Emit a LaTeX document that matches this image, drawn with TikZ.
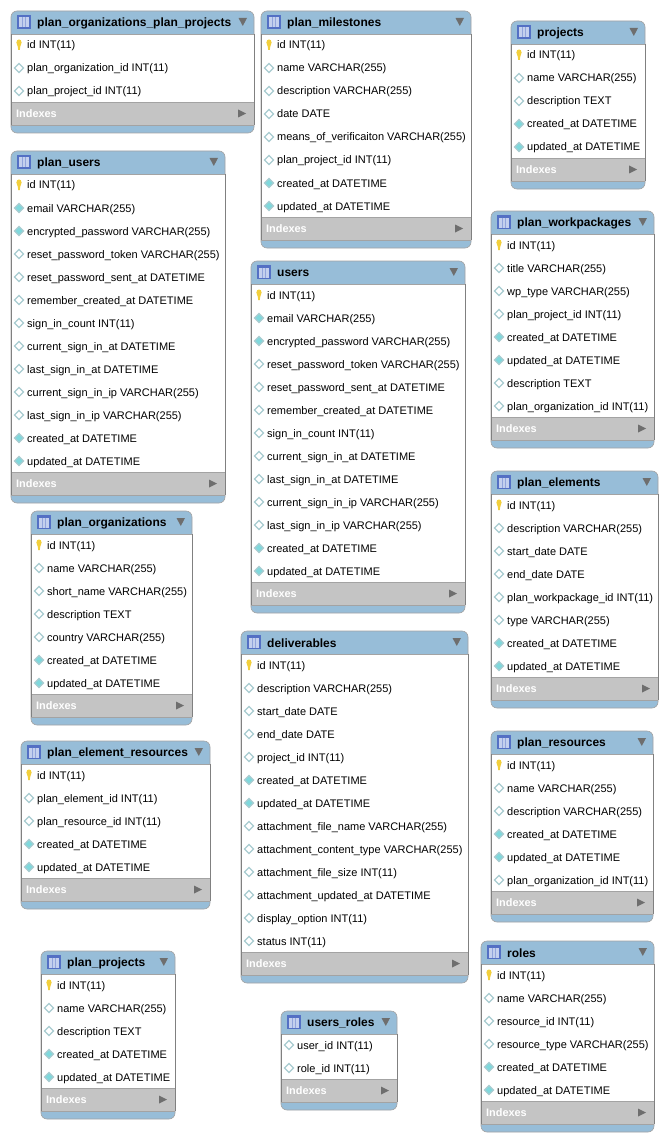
\documentclass[tikz,border=0pt]{standalone}
\usepackage{fontspec}
\setmainfont{Liberation Sans}
\definecolor{hdr}{HTML}{97BDD8}
\definecolor{band}{HTML}{C4C4C4}
\definecolor{edge}{HTML}{A3A3A3}
\definecolor{side}{HTML}{808080}
\definecolor{arrowgrey}{HTML}{6E6E6E}
\definecolor{keyy}{HTML}{F2CF3C}
\definecolor{cyanfill}{HTML}{7FD8DC}
\definecolor{diaedge}{HTML}{A8CCD0}
\definecolor{iconblue}{HTML}{5470C4}
\definecolor{iconpale}{HTML}{C4D0EE}
\tikzset{
  x=1pt,y=-1pt,
  rowtext/.style={anchor=west,inner sep=0pt,font=\fontsize{11}{12}\selectfont,text=black},
  titletext/.style={anchor=west,inner sep=0pt,font=\bfseries\fontsize{12}{13}\selectfont,text=black},
  idxtext/.style={anchor=west,inner sep=0pt,font=\bfseries\fontsize{10.9}{12}\selectfont,text=white},
  arrowmark/.style={fill=arrowgrey,draw=none},
  dia/.style={line width=1.1pt},
}
\newcommand{\iconk}[2]{%
  \fill[keyy] (#1-2.6,#2-2.5) .. controls (#1-2.6,#2-6.5) and (#1+2.6,#2-6.5) .. (#1+2.6,#2-2.5)
     .. controls (#1+2.6,#2-0.5) and (#1+1,#2) .. (#1+.8,#2+5) -- (#1-.8,#2+5)
     .. controls (#1-1,#2) and (#1-2.6,#2-0.5) .. cycle;}
\newcommand{\iconh}[2]{%
  \draw[dia,draw=diaedge,fill=white] (#1-4.5,#2) -- (#1,#2-4.5) -- (#1+4.5,#2) -- (#1,#2+4.5) -- cycle;}
\newcommand{\iconf}[2]{%
  \draw[dia,draw=diaedge,fill=cyanfill] (#1-4.5,#2) -- (#1,#2-4.5) -- (#1+4.5,#2) -- (#1,#2+4.5) -- cycle;}
% id, left, right, top, row count, title, rows
\newcommand{\dbtable}[7]{%
  \pgfmathsetmacro{\rowsend}{#4+22+(#5)*23}%
  \pgfmathsetmacro{\idxend}{\rowsend+23}%
  \pgfmathsetmacro{\tblend}{\idxend+8}%
  \fill[hdr,draw=edge,line width=.6pt,rounded corners=6pt] (#2,#4) rectangle (#3,\tblend);
  \fill[white] (#2,#4+23) rectangle (#3,\rowsend);
  \fill[band] (#2,\rowsend) rectangle (#3,\idxend);
  \draw[edge,line width=.8pt] (#2,#4+23) -- (#3,#4+23);
  \draw[edge,line width=.8pt] (#2,\rowsend) -- (#3,\rowsend);
  \draw[edge,line width=.8pt] (#2,\idxend) -- (#3,\idxend);
  \draw[side,line width=.7pt] (#2,#4+23) -- (#2,\idxend);
  \draw[side,line width=.7pt] (#3,#4+23) -- (#3,\idxend);
  % table icon
  \fill[iconblue] (#2+6,#4+4) rectangle (#2+19.5,#4+18);
  \fill[iconpale] (#2+7.5,#4+6.5) rectangle (#2+18,#4+16.5);
  \draw[iconblue!45!iconpale,line width=.5pt] (#2+11,#4+6.5) -- (#2+11,#4+16.5) (#2+14.5,#4+6.5) -- (#2+14.5,#4+16.5);
  \node[titletext] (#1-title) at (#2+26,#4+12.3) {#6};
  \fill[arrowmark] (#3-15.5,#4+7) -- (#3-7,#4+7) -- (#3-11.2,#4+15) -- cycle;
  \foreach \kind/\txt [count=\i from 0] in {#7} {
    \pgfmathsetmacro{\rowy}{#4+34+\i*23}
    \csname icon\kind\endcsname{#2+8}{\rowy}
    \node[rowtext] (#1-r\i) at (#2+16,\rowy+1.6) {\txt\strut};
  }
  \node[idxtext] (#1-idx) at (#2+5,\rowsend+11.3) {Indexes};
  \fill[arrowmark] (#3-16,\rowsend+7.5) -- (#3-8,\rowsend+11.5) -- (#3-16,\rowsend+15.5) -- cycle;
}
\begin{document}
\begin{tikzpicture}
\useasboundingbox (0,0) rectangle (668,1142);
\fill[white] (0,0) rectangle (668,1142);
\dbtable{oplan}{11}{254}{11}{3}{plan\_organizations\_plan\_projects}{k/id INT(11),h/plan\_organization\_id INT(11),h/plan\_project\_id INT(11)}
\dbtable{miles}{261}{471}{11}{8}{plan\_milestones}{k/id INT(11),h/name VARCHAR(255),h/description VARCHAR(255),h/date DATE,h/means\_of\_verificaiton VARCHAR(255),h/plan\_project\_id INT(11),f/created\_at DATETIME,f/updated\_at DATETIME}
\dbtable{projects}{511}{645}{21}{5}{projects}{k/id INT(11),h/name VARCHAR(255),h/description TEXT,f/created\_at DATETIME,f/updated\_at DATETIME}
\dbtable{pusers}{11}{225}{151}{13}{plan\_users}{k/id INT(11),f/email VARCHAR(255),f/encrypted\_password VARCHAR(255),h/reset\_password\_token VARCHAR(255),h/reset\_password\_sent\_at DATETIME,h/remember\_created\_at DATETIME,h/sign\_in\_count INT(11),h/current\_sign\_in\_at DATETIME,h/last\_sign\_in\_at DATETIME,h/current\_sign\_in\_ip VARCHAR(255),h/last\_sign\_in\_ip VARCHAR(255),f/created\_at DATETIME,f/updated\_at DATETIME}
\dbtable{wpack}{491}{654}{211}{8}{plan\_workpackages}{k/id INT(11),h/title VARCHAR(255),h/wp\_type VARCHAR(255),h/plan\_project\_id INT(11),f/created\_at DATETIME,f/updated\_at DATETIME,h/description TEXT,h/plan\_organization\_id INT(11)}
\dbtable{users}{251}{465}{261}{13}{users}{k/id INT(11),f/email VARCHAR(255),f/encrypted\_password VARCHAR(255),h/reset\_password\_token VARCHAR(255),h/reset\_password\_sent\_at DATETIME,h/remember\_created\_at DATETIME,h/sign\_in\_count INT(11),h/current\_sign\_in\_at DATETIME,h/last\_sign\_in\_at DATETIME,h/current\_sign\_in\_ip VARCHAR(255),h/last\_sign\_in\_ip VARCHAR(255),f/created\_at DATETIME,f/updated\_at DATETIME}
\dbtable{elems}{491}{658}{471}{8}{plan\_elements}{k/id INT(11),h/description VARCHAR(255),h/start\_date DATE,h/end\_date DATE,h/plan\_workpackage\_id INT(11),h/type VARCHAR(255),f/created\_at DATETIME,f/updated\_at DATETIME}
\dbtable{orgs}{31}{192}{511}{7}{plan\_organizations}{k/id INT(11),h/name VARCHAR(255),h/short\_name VARCHAR(255),h/description TEXT,h/country VARCHAR(255),f/created\_at DATETIME,f/updated\_at DATETIME}
\dbtable{elres}{21}{210}{741}{5}{plan\_element\_resources}{k/id INT(11),h/plan\_element\_id INT(11),h/plan\_resource\_id INT(11),f/created\_at DATETIME,f/updated\_at DATETIME}
\dbtable{res}{491}{653}{731}{6}{plan\_resources}{k/id INT(11),h/name VARCHAR(255),h/description VARCHAR(255),f/created\_at DATETIME,f/updated\_at DATETIME,h/plan\_organization\_id INT(11)}
\dbtable{deliv}{241}{468}{631}{13}{deliverables}{k/id INT(11),h/description VARCHAR(255),h/start\_date DATE,h/end\_date DATE,h/project\_id INT(11),f/created\_at DATETIME,f/updated\_at DATETIME,h/attachment\_file\_name VARCHAR(255),h/attachment\_content\_type VARCHAR(255),h/attachment\_file\_size INT(11),h/attachment\_updated\_at DATETIME,h/display\_option INT(11),h/status INT(11)}
\dbtable{roles}{481}{654}{941}{6}{roles}{k/id INT(11),h/name VARCHAR(255),h/resource\_id INT(11),h/resource\_type VARCHAR(255),f/created\_at DATETIME,f/updated\_at DATETIME}
\dbtable{pproj}{41}{175}{951}{5}{plan\_projects}{k/id INT(11),h/name VARCHAR(255),h/description TEXT,f/created\_at DATETIME,f/updated\_at DATETIME}
\dbtable{uroles}{281}{397}{1011}{2}{users\_roles}{h/user\_id INT(11),h/role\_id INT(11)}
\end{tikzpicture}
\end{document}
